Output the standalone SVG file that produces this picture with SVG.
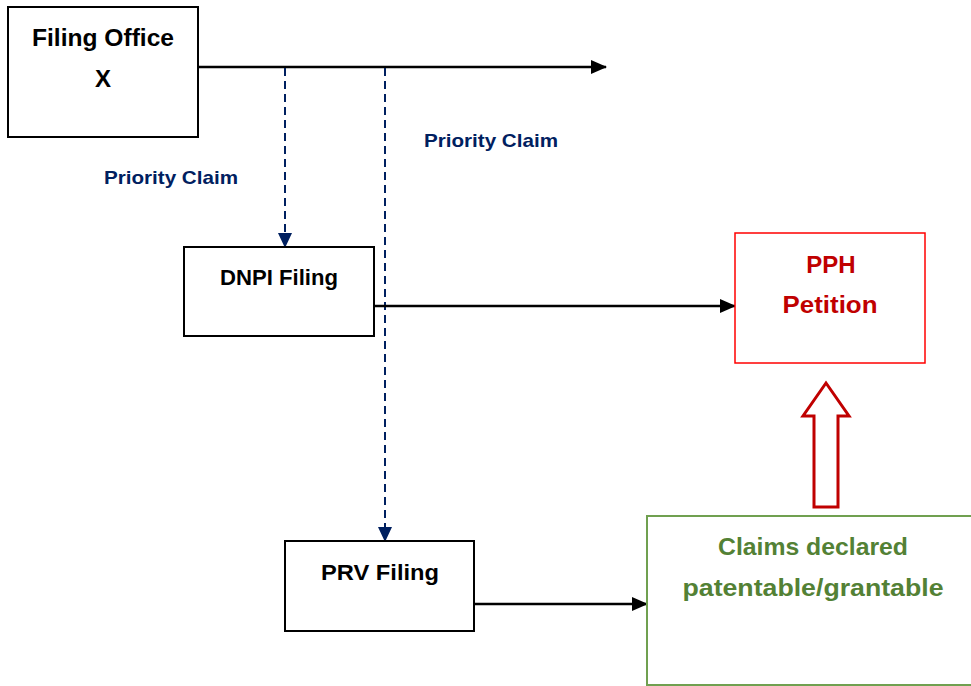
<svg xmlns="http://www.w3.org/2000/svg" width="971" height="686" viewBox="0 0 971 686">
<style>
.box{fill:#fff;stroke:#000;stroke-width:2}
.t{font-family:"Liberation Sans",Arial,sans-serif;font-weight:bold;text-anchor:middle}
.big{font-size:24px;fill:#000}
.mid{font-size:22.5px;fill:#000}
.pc{font-size:19px;fill:#002060}
.solid{stroke:#000;stroke-width:2.5;fill:none}
.dash{stroke:#002060;stroke-width:2;stroke-dasharray:8 5;fill:none}
</style>
<defs>
<marker id="ab" markerWidth="16" markerHeight="14" refX="15" refY="7" orient="auto" markerUnits="userSpaceOnUse"><path d="M0,0 L16,7 L0,14 Z" fill="#000"/></marker>
<marker id="an" markerWidth="15" markerHeight="14" refX="14" refY="7" orient="auto" markerUnits="userSpaceOnUse"><path d="M0,0 L15,7 L0,14 Z" fill="#002060"/></marker>
</defs>
<rect width="971" height="686" fill="#fff"/>
<g id="connectors">
<line class="solid" x1="198" y1="67" x2="606" y2="67" marker-end="url(#ab)"/>
<line class="dash" x1="285" y1="68" x2="285" y2="247" marker-end="url(#an)"/>
<line class="dash" x1="385" y1="68" x2="385" y2="541" marker-end="url(#an)"/>
<line class="solid" x1="374" y1="306" x2="735" y2="306" marker-end="url(#ab)"/>
<line class="solid" x1="474" y1="604" x2="647" y2="604" marker-end="url(#ab)"/>
<path d="M826,383 L849,416 L838,416 L838,507 L814,507 L814,416 L803,416 Z" fill="#fff" stroke="#c00000" stroke-width="3"/>
<text class="t pc" x="171" y="184" textLength="134" lengthAdjust="spacingAndGlyphs">Priority Claim</text>
<text class="t pc" x="491" y="147" textLength="134" lengthAdjust="spacingAndGlyphs">Priority Claim</text>
</g>
<g id="filing-office">
<rect class="box" x="8" y="7" width="190" height="130"/>
<text class="t big" x="103" y="46" textLength="142" lengthAdjust="spacingAndGlyphs">Filing Office</text>
<text class="t big" x="103" y="87">X</text>
</g>
<g id="dnpi">
<rect class="box" x="184" y="247" width="190" height="89"/>
<text class="t mid" x="279" y="285" textLength="118" lengthAdjust="spacingAndGlyphs">DNPI Filing</text>
</g>
<g id="prv">
<rect class="box" x="285" y="541" width="189" height="90"/>
<text class="t mid" x="380" y="580" textLength="118" lengthAdjust="spacingAndGlyphs">PRV Filing</text>
</g>
<g id="pph">
<rect x="735" y="233" width="190" height="130" fill="#fff" stroke="#ff0000" stroke-width="1.5"/>
<text class="t big" x="831" y="273" style="fill:#c00000">PPH</text>
<text class="t big" x="830" y="313" textLength="95" lengthAdjust="spacingAndGlyphs" style="fill:#c00000">Petition</text>
</g>
<g id="claims">
<rect x="647" y="516" width="330" height="169" fill="#fff" stroke="#70a050" stroke-width="2"/>
<text class="t big" x="813" y="555" textLength="190" lengthAdjust="spacingAndGlyphs" style="fill:#538135">Claims declared</text>
<text class="t big" x="813" y="596" textLength="261" lengthAdjust="spacingAndGlyphs" style="fill:#538135">patentable/grantable</text>
</g>
</svg>
